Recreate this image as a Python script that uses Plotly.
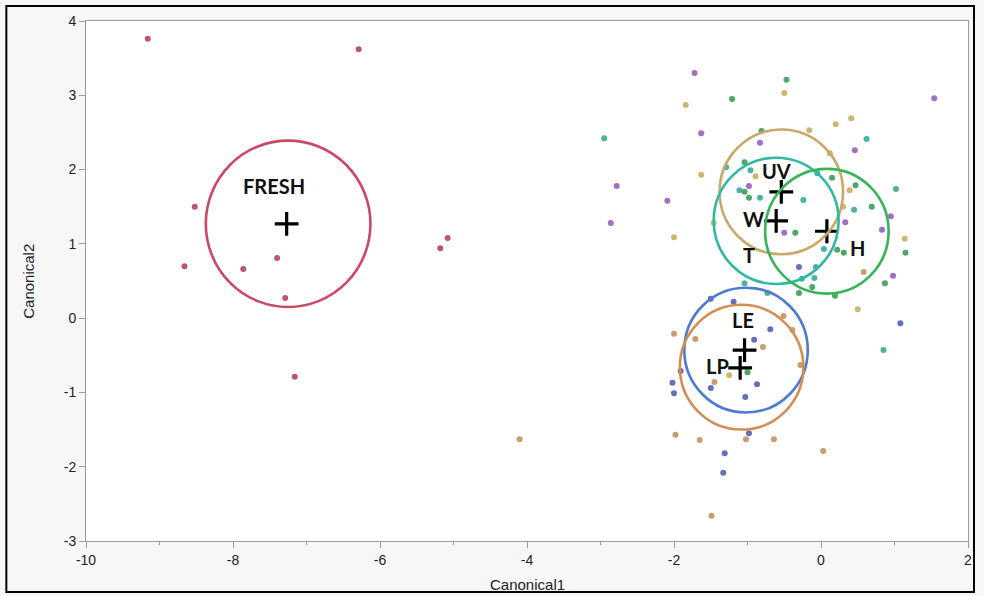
import plotly.graph_objects as go

# Canonical scores per treatment group
fresh_x = [-9.16, -6.29, -8.52, -8.66, -7.86, -7.40, -7.29, -7.16, -5.08, -5.18]
fresh_y = [3.76, 3.62, 1.50, 0.70, 0.66, 0.81, 0.27, -0.79, 1.08, 0.94]

uv_x = [-1.84, -1.63, -2.00, -0.89, -1.46, -0.50, -0.16, 0.20, 0.41, 0.12, 0.39, 0.30, 1.14, 0.50, -1.25]
uv_y = [2.87, 1.93, 1.09, 1.91, 1.28, 3.03, 2.53, 2.61, 2.69, 2.22, 1.72, 1.50, 1.07, 0.12, -0.77]

t_x = [-1.72, -1.63, -0.83, -2.78, -2.09, -2.86, -0.98, 1.54, 0.46, 0.33, 0.95, 0.83, -0.50, 0.98]
t_y = [3.30, 2.49, 2.36, 1.78, 1.58, 1.28, 1.78, 2.96, 2.26, 1.29, 1.37, 1.19, 1.15, 0.57]

w_x = [-2.95, -1.29, -0.96, -1.11, -0.83, 0.62, -0.05, 1.02, -0.24, 0.45, -1.04, 0.04, -0.07, -0.09, -0.26, 0.85, -0.73]
w_y = [2.42, 2.03, 1.99, 1.72, 1.62, 2.41, 1.95, 1.74, 1.59, 1.46, 0.47, 0.93, 0.69, 0.54, 0.53, -0.43, 0.34]

h_x = [-1.21, -0.81, -1.04, -1.04, -0.98, -0.47, 0.15, 0.47, 0.69, -0.35, 1.15, 0.22, 0.31, 0.87, -0.12, -0.30, 0.19, -1.00]
h_y = [2.95, 2.52, 2.10, 1.70, 1.62, 3.21, 1.89, 1.79, 1.50, 1.15, 0.88, 0.92, 0.88, 0.47, 0.42, 0.34, 0.30, -0.73]

le_x = [-0.69, -0.91, -2.02, -1.50, -0.87, -2.00, -1.03, -1.31, -1.33, -0.30, 1.08, -1.50, -1.19, -1.91, -0.98]
le_y = [-0.15, -0.29, -0.87, -0.94, -0.89, -1.01, -1.06, -1.82, -2.08, 0.69, -0.07, 0.26, 0.22, -0.71, -1.55]

lp_x = [-2.00, -1.71, -0.79, -1.45, 0.58, -0.51, -0.39, -0.28, -1.98, -1.65, -1.02, -0.64, -1.49, -4.10, 0.03]
lp_y = [-0.21, -0.28, -0.39, -0.86, 0.62, 0.03, -0.16, -0.63, -1.57, -1.64, -1.63, -1.63, -2.66, -1.63, -1.79]

# Group means and 95% confidence circle radii
mean_names = ["FRESH", "UV", "W", "H", "LE", "LP"]
mean_x = [-7.27, -0.54, -0.61, 0.08, -1.04, -1.10]
mean_y = [1.27, 1.70, 1.31, 1.17, -0.43, -0.67]
circle_cx = [-7.25, -0.54, -0.61, 0.08, -1.02, -1.08]
circle_cy = [1.27, 1.70, 1.31, 1.17, -0.43, -0.66]
circle_r = [1.12, 0.84, 0.85, 0.84, 0.84, 0.84]
circle_color = ["#c84a66", "#c9a96a", "#2fb8a4", "#38b458", "#4d7bd0", "#d38f52"]

# Group labels
label_text = ["FRESH", "UV", "W", "T", "H", "LE", "LP"]
label_x = [-7.44, -0.61, -0.92, -0.98, 0.49, -1.06, -1.41]
label_y = [1.78, 1.98, 1.33, 0.85, 0.94, -0.03, -0.64]

# Axis ticks
x_ticks = [-10, -8, -6, -4, -2, 0, 2]
y_ticks = [-3, -2, -1, 0, 1, 2, 3, 4]

groups = [
    ("FRESH", fresh_x, fresh_y, "#b4465f"),
    ("UV", uv_x, uv_y, "#c3b062"),
    ("T", t_x, t_y, "#9660c0"),
    ("W", w_x, w_y, "#3aaa9a"),
    ("H", h_x, h_y, "#3a9f58"),
    ("LE", le_x, le_y, "#5561b2"),
    ("LP", lp_x, lp_y, "#c69162"),
]

fig = go.Figure()

for name, gx, gy, col in groups:
    fig.add_trace(go.Scatter(
        x=gx, y=gy, mode="markers", name=name,
        marker=dict(size=6, color=col, opacity=0.9, line=dict(width=0)),
        showlegend=False, hoverinfo="skip",
    ))

for cx, cy, r, col in zip(circle_cx, circle_cy, circle_r, circle_color):
    fig.add_shape(type="circle", xref="x", yref="y",
                  x0=cx - r, x1=cx + r, y0=cy - r, y1=cy + r,
                  line=dict(color=col, width=2.6), layer="above")

fig.add_trace(go.Scatter(
    x=mean_x, y=mean_y, mode="markers", text=mean_names,
    marker=dict(symbol="cross-thin", size=17, line=dict(width=3.2, color="black"), color="black"),
    showlegend=False, hoverinfo="text",
))

for t, lx, ly in zip(label_text, label_x, label_y):
    fig.add_annotation(x=lx, y=ly, text=t, showarrow=False, xref="x", yref="y",
                       font=dict(family="Lato", size=20, color="#111111", weight="bold"))

axis_font = dict(family="Liberation Sans", size=14, color="#222222")

fig.update_xaxes(range=[-10, 2], tickvals=x_ticks, ticktext=[str(v) for v in x_ticks],
                 showgrid=False, zeroline=False, showline=True, mirror=True,
                 linecolor="#9a9a9a", linewidth=1, ticks="outside", ticklen=6,
                 tickcolor="#9a9a9a", tickfont=axis_font,
                 minor=dict(dtick=1, ticks="outside", ticklen=3, tickcolor="#9a9a9a"))
fig.update_yaxes(range=[-3, 4], tickvals=y_ticks, ticktext=[str(v) for v in y_ticks],
                 showgrid=False, zeroline=False, showline=True, mirror=True,
                 linecolor="#9a9a9a", linewidth=1, ticks="outside", ticklen=6,
                 tickcolor="#9a9a9a", tickfont=axis_font)

title_font = dict(family="Liberation Sans", size=15, color="#222222")
fig.add_annotation(text="Canonical1", xref="paper", yref="paper", x=0.5, y=-0.083,
                   showarrow=False, font=title_font, yanchor="middle")
fig.add_annotation(text="Canonical2", xref="paper", yref="paper", x=-0.066, y=0.5,
                   showarrow=False, font=title_font, textangle=-90, xanchor="center")

# Outer frame
fig.add_shape(type="rect", xref="paper", yref="paper",
              x0=-0.0903, x1=1.0068, y0=-0.098, y1=1.0288,
              line=dict(color="black", width=2), layer="above")

fig.update_layout(
    width=984, height=596,
    margin=dict(l=86, r=12, t=21, b=55),
    paper_bgcolor="#f7f7f7", plot_bgcolor="white",
)

fig.write_html("out.html")
